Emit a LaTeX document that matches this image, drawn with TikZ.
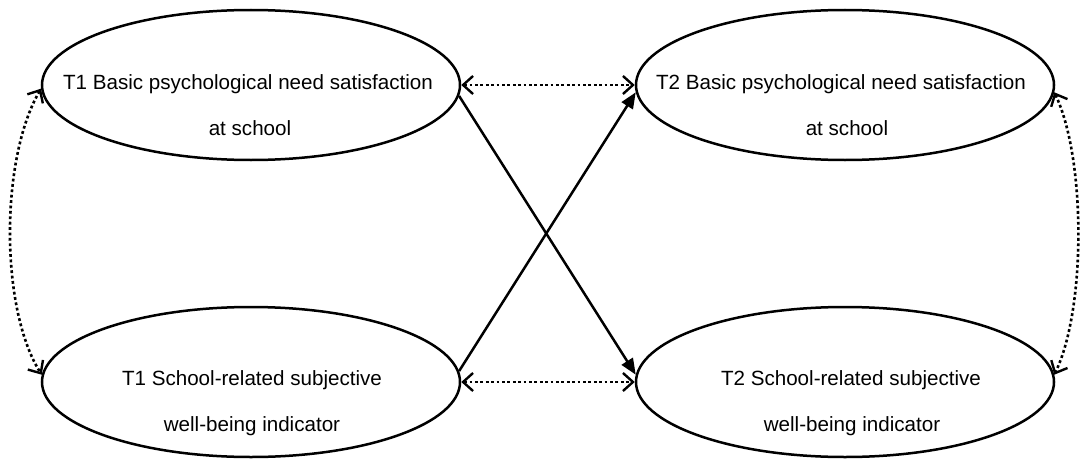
\documentclass[tikz,border=0pt]{standalone}
\usepackage{fontspec}
\setmainfont{Liberation Sans}
\usetikzlibrary{shapes.geometric,arrows.meta}
\begin{document}
\begin{tikzpicture}[x=1pt,y=1pt,
  latent/.style={draw, ellipse, line width=2.5pt, minimum width=418pt, minimum height=150pt, inner sep=0pt},
  lbl/.style={font=\fontsize{20.6}{24}\selectfont, anchor=base, inner sep=0pt},
  cov/.style={line width=2.6pt, dash pattern=on 2.8pt off 2.6pt, {Straight Barb[length=10pt,width=18pt,line width=2.4pt]}-{Straight Barb[length=10pt,width=18pt,line width=2.4pt]}},
  path/.style={line width=2.5pt, -{Triangle[length=16pt,width=13pt]}}]
\useasboundingbox (0,0) rectangle (1083,459);
\node[latent] (tl) at (251,374) {};
\node[latent] (tr) at (845,374) {};
\node[latent] (bl) at (251,77) {};
\node[latent] (br) at (845,77) {};
\node[lbl] (tla) at (248,370) {T1 Basic psychological need satisfaction};
\node[lbl] (tlb) at (250,324) {at school};
\node[lbl] (tra) at (841,370) {T2 Basic psychological need satisfaction};
\node[lbl] (trb) at (847,324) {at school};
\node[lbl] (bla) at (252,74) {T1 School-related subjective};
\node[lbl] (blb) at (252,28) {well-being indicator};
\node[lbl] (bra) at (851,74) {T2 School-related subjective};
\node[lbl] (brb) at (852,28) {well-being indicator};
\draw[cov] (tl.east) -- (tr.west);
\draw[cov] (bl.east) -- (br.west);
\draw[path] (tl.357) -- (br.178);
\draw[path] (bl.3) -- (tr.182);
\draw[cov] (tl.181) .. controls (0,300) and (0,150) .. (bl.178);
\draw[cov] (tr.358) .. controls (1086,300) and (1086,150) .. (br.2);
\end{tikzpicture}
\end{document}
